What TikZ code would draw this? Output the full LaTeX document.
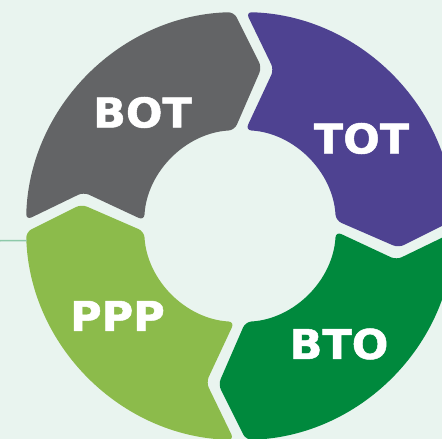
\documentclass[tikz,border=0pt]{standalone}
\usepackage{fontspec}
\usepackage{tikz}
\usepackage{xcolor}
\newfontfamily\labelfont{DejaVu Sans}[FakeStretch=1.05, FakeBold=1.2]
\definecolor{bgmint}{HTML}{E9F4EF}
\definecolor{segGray}{HTML}{636466}
\definecolor{segPurple}{HTML}{4E4291}
\definecolor{segDark}{HTML}{00893D}
\definecolor{segLight}{HTML}{8CBB4B}
\definecolor{leadLine}{HTML}{8DC9A9}
\tikzset{
    seglabel/.style={text=white, inner sep=0pt, font=\labelfont\bfseries\fontsize{41}{41}\selectfont},
    segpiece/.style={rounded corners=6pt}
}

\begin{document}
\begin{tikzpicture}[x=1pt, y=1pt]
        \useasboundingbox (0,0) rectangle (442,-439);
        \fill[bgmint] (0,0) rectangle (442,-439);
        % four arrow pieces of the ring, clockwise
        \begin{scope}[shift={(240,-226)}]
            \foreach \ta/\col in {180/segGray, 90/segPurple, 0/segDark, 270/segLight}{
                \pgfmathsetmacro{\ha}{\ta-90}
                \fill[\col, segpiece] ({\ta-1.6}:214) arc[start angle=\ta-1.6, end angle=\ha+1.6, radius=214]
                    -- ({\ha-7.8}:160) -- ({\ha+3.3}:96)
                    arc[start angle=\ha+3.3, end angle=\ta-3.3, radius=96]
                    -- ({\ta-12.2}:160) -- cycle;
            }
            \coordinate (lineend) at (183.9:214);
        \end{scope}
        \coordinate (linestart) at (0,-240.7);
        \draw[leadLine, line width=1.6pt] (linestart) -- (lineend);
        \node[seglabel] (bot) at (142.5,-112.5) {BOT};
        \node[seglabel] (tot) at (361.5,-138.5) {TOT};
        \node[seglabel] (ppp) at (117.5,-316) {PPP};
        \node[seglabel] (bto) at (339,-344) {BTO};
    \end{tikzpicture}
\end{document}
